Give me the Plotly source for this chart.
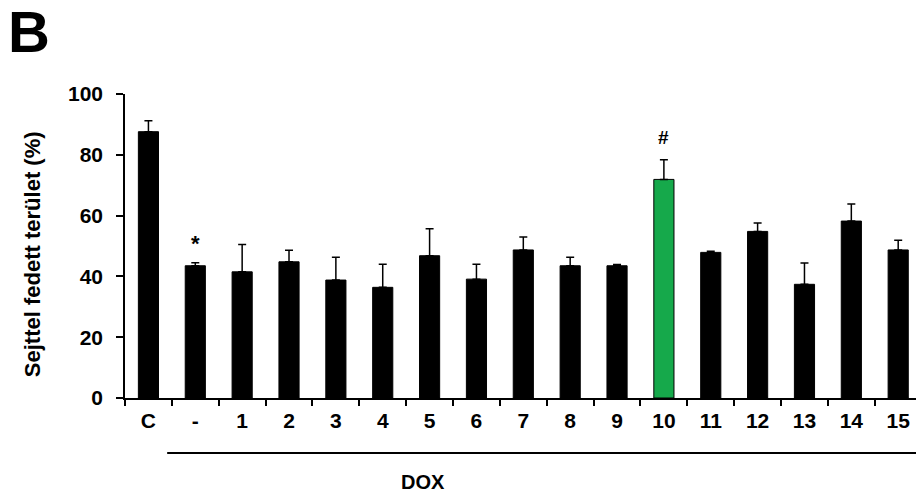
import plotly.graph_objects as go

categories = ["C", "-", "1", "2", "3", "4", "5", "6", "7", "8", "9", "10", "11", "12", "13", "14", "15"]
values = [87.6, 43.5, 41.5, 44.8, 38.8, 36.4, 46.8, 39.1, 48.7, 43.5, 43.5, 71.9, 47.9, 54.8, 37.4, 58.2, 48.7]
errors = [3.6, 1.0, 9.0, 3.8, 7.5, 7.6, 8.9, 4.9, 4.3, 2.8, 0.4, 6.5, 0.4, 2.8, 7.0, 5.6, 3.2]
highlight = "10"
markers = {"-": "*", "10": "#"}
y_ticks = [0, 20, 40, 60, 80, 100]

FONT = "Liberation Sans, Arial, sans-serif"
colors = ["#16a94b" if c == highlight else "black" for c in categories]

fig = go.Figure()
fig.add_trace(go.Bar(
    x=categories, y=values,
    marker=dict(color=colors, line=dict(color="black", width=1)),
    error_y=dict(type="data", symmetric=False, array=errors,
                 arrayminus=[0] * len(errors), color="black",
                 thickness=1.5, width=4),
    width=0.43,
    showlegend=False,
))

for cat, sym in markers.items():
    i = categories.index(cat)
    fig.add_annotation(x=i, y=values[i] + errors[i], text="<b>%s</b>" % sym,
                       yshift=19 if sym == "*" else 22, showarrow=False,
                       font=dict(family=FONT, size=22 if sym == "*" else 19, color="black"),
                       xanchor="center", yanchor="middle")

# DOX bracket line
fig.add_shape(type="line", xref="x", yref="paper", x0=0.4, x1=16.6,
              y0=-0.181, y1=-0.181, line=dict(color="black", width=2))
fig.add_annotation(xref="x", yref="paper", x=5.86, y=-0.276, text="<b>DOX</b>",
                   showarrow=False, font=dict(family=FONT, size=20, color="black"),
                   xanchor="center", yanchor="middle")

fig.add_annotation(xref="paper", yref="paper", x=-0.116, y=0.474,
                   text="<b>Sejttel fedett terület (%)</b>", textangle=-90,
                   showarrow=False, font=dict(family=FONT, size=22, color="black"),
                   xanchor="center", yanchor="middle")

fig.add_annotation(xref="paper", yref="paper", x=-0.150, y=1.319,
                   text="<b>B</b>", showarrow=False,
                   font=dict(family=FONT, size=58, color="black"),
                   xanchor="left", yanchor="top")

fig.update_layout(
    width=916, height=494,
    margin=dict(l=125, r=0, t=94, b=96),
    plot_bgcolor="white", paper_bgcolor="white",
    font=dict(family=FONT, color="black"),
    xaxis=dict(
        range=[-0.5, 16.38],
        showline=True, linecolor="black", linewidth=1.5,
        ticks="outside", tickson="boundaries", ticklen=6, tickwidth=1.5, tickcolor="black",
        tickfont=dict(family=FONT, size=21, color="black", weight="bold"),
        ticklabelstandoff=3,
        showgrid=False, zeroline=False,
    ),
    yaxis=dict(
        range=[0, 100], tickvals=y_ticks,
        showline=True, linecolor="black", linewidth=1.5,
        ticks="outside", ticklen=7, tickwidth=1.5, tickcolor="black",
        tickfont=dict(family=FONT, size=21, color="black", weight="bold"),
        ticklabelstandoff=9,
        showgrid=False, zeroline=False,
    ),
)

fig.write_html("out.html", config={"displayModeBar": False},
               post_script="document.body.style.margin='0';document.body.style.overflow='hidden';")
